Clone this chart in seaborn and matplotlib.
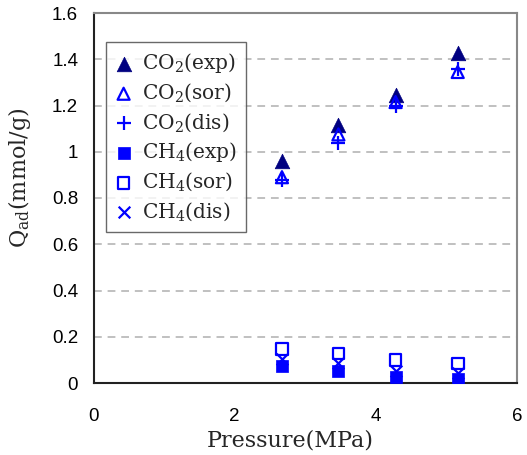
import matplotlib
matplotlib.use("Agg")
import matplotlib.pyplot as plt
import seaborn as sns
import pandas as pd

# pressure points (MPa)
pressure = [2.67, 3.47, 4.28, 5.16]

co2_exp = [0.96, 1.115, 1.245, 1.425]
co2_sor = [0.89, 1.075, 1.215, 1.345]
co2_dis = [0.88, 1.04, 1.20, 1.36]
ch4_exp = [0.074, 0.052, 0.026, 0.017]
ch4_sor = [0.147, 0.128, 0.10, 0.084]
ch4_dis = [0.105, 0.088, 0.05, 0.045]

labels = ["CO$_2$(exp)", "CO$_2$(sor)", "CO$_2$(dis)",
          "CH$_4$(exp)", "CH$_4$(sor)", "CH$_4$(dis)"]
series = [co2_exp, co2_sor, co2_dis, ch4_exp, ch4_sor, ch4_dis]

sns.set_style("white")
plt.rcParams["font.family"] = ["Liberation Sans", "DejaVu Sans"]
plt.rcParams["mathtext.fontset"] = "dejavuserif"

SERIF = ["DejaVu Serif"]
NAVY, BLUE = "#000080", "#0000ff"

# (marker, size, face, edge, linewidth)
styles = [
    ("^", 110, NAVY, NAVY, 0.5),
    ("^", 75, "none", BLUE, 1.6),
    ("+", 110, BLUE, BLUE, 1.6),
    ("s", 80, BLUE, BLUE, 0.5),
    ("s", 70, "none", BLUE, 1.6),
    ("x", 70, BLUE, BLUE, 1.6),
]

fig = plt.figure(figsize=(5.27, 4.55), dpi=100)
ax = fig.add_axes([93.5 / 527, 1 - 383 / 455, 423.5 / 527, 370 / 455])

for ys, lab, (mk, s, fc, ec, lw) in zip(series, labels, styles):
    df = pd.DataFrame({"p": pressure, "q": ys})
    if mk in ("+", "x"):
        sns.scatterplot(data=df, x="p", y="q", marker=mk, s=s, color=ec,
                        linewidth=lw, label=lab, ax=ax, zorder=3)
    else:
        sns.scatterplot(data=df, x="p", y="q", marker=mk, s=s, facecolors=fc,
                        edgecolor=ec, linewidth=lw, label=lab, ax=ax, zorder=3)

ax.set_xlim(0, 6)
ax.set_ylim(0, 1.6)
ax.set_xticks([0, 2, 4, 6])
ax.set_yticks([0, 0.2, 0.4, 0.6, 0.8, 1.0, 1.2, 1.4, 1.6])
ax.set_yticklabels(["0", "0.2", "0.4", "0.6", "0.8", "1", "1.2", "1.4", "1.6"])
ax.tick_params(axis="both", direction="in", length=4, width=1, labelsize=13.5, colors="#222222")
ax.tick_params(axis="x", pad=18)
ax.tick_params(axis="y", pad=11)
for lab in ax.get_xticklabels() + ax.get_yticklabels():
    lab.set_color("black")

for yv in [0.2, 0.4, 0.6, 0.8, 1.0, 1.2, 1.4]:
    ax.axhline(yv, color="#c0c0c0", linestyle=(0, (4, 3)), linewidth=1.4, zorder=1)

for side in ("left", "bottom"):
    ax.spines[side].set_color("#222222")
    ax.spines[side].set_linewidth(1.5)
for side in ("top", "right"):
    ax.spines[side].set_color("#888888")
    ax.spines[side].set_linewidth(1.5)

ax.set_xlabel("Pressure(MPa)", family=SERIF, fontsize=16)
ax.set_ylabel("Q$_{\\mathrm{ad}}$(mmol/g)", family=SERIF, fontsize=16)
ax.xaxis.set_label_coords(0.465, -0.125)
ax.yaxis.set_label_coords(-0.143, 0.555)

leg = ax.legend(loc="upper left", bbox_to_anchor=(0.0295, 0.9216), borderaxespad=0,
                frameon=True, fancybox=False, prop={"family": SERIF, "size": 14.5},
                labelspacing=0.33, handletextpad=0.5, handlelength=0.85,
                borderpad=0.45, scatterpoints=1)
leg.get_frame().set_edgecolor("#444444")
leg.get_frame().set_linewidth(1.0)

fig.savefig("out.png", dpi=100)
